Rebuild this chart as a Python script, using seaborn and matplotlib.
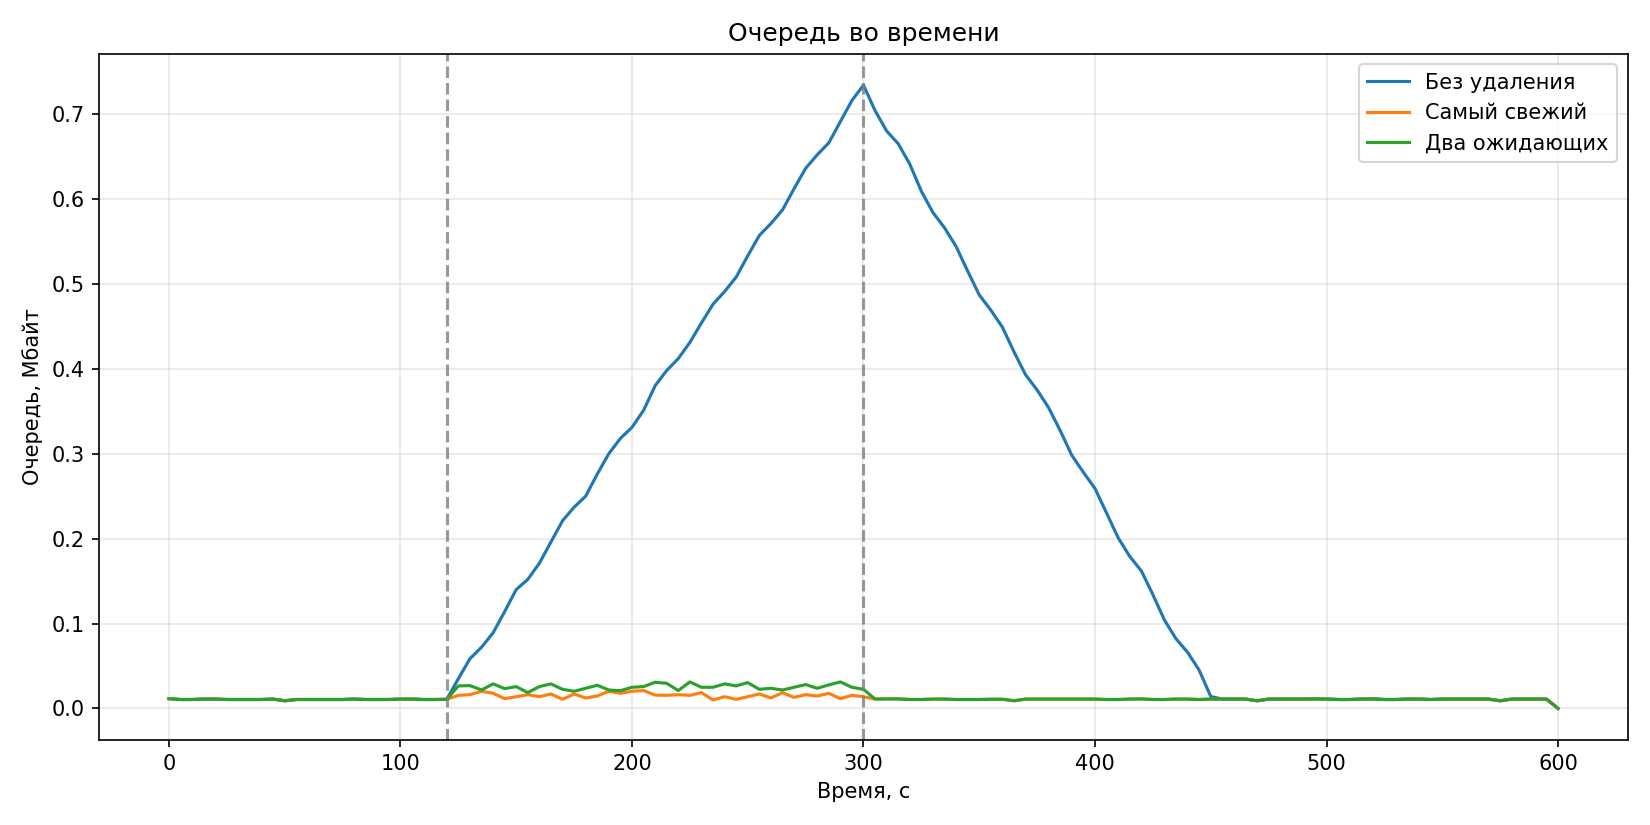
import numpy as np
import pandas as pd
import matplotlib
matplotlib.use("Agg")
import matplotlib.pyplot as plt
import seaborn as sns

# время, с (шаг 5 с)
t = np.arange(0, 605, 5)

# общий фон до начала нагрузки (0..115 с)
head = [0.0115, 0.0105, 0.0105, 0.011, 0.011, 0.0105, 0.0105, 0.0105, 0.0105, 0.011,
        0.009, 0.0105, 0.0105, 0.0105, 0.0105, 0.0105, 0.011, 0.0105, 0.0105, 0.0105,
        0.011, 0.011, 0.0105, 0.0105]

# без удаления: 120..450 с
no_drop_mid = [0.0107, 0.035, 0.0585, 0.072, 0.089, 0.114, 0.140, 0.152, 0.171, 0.196,
               0.221, 0.237, 0.250, 0.276, 0.300, 0.318, 0.331, 0.351, 0.380, 0.398,
               0.412, 0.431, 0.454, 0.476, 0.491, 0.508, 0.533, 0.557, 0.571, 0.587,
               0.612, 0.636, 0.652, 0.666, 0.691, 0.716, 0.734,
               0.704, 0.680, 0.665, 0.641, 0.609, 0.584, 0.566, 0.544, 0.515, 0.487,
               0.469, 0.449, 0.420, 0.393, 0.375, 0.354, 0.327, 0.298, 0.278, 0.259,
               0.230, 0.201, 0.179, 0.162, 0.134, 0.104, 0.082, 0.066, 0.045, 0.014]

# самый свежий: 120..300 с
newest_mid = [0.0107, 0.0154, 0.0162, 0.0202, 0.0178, 0.0115, 0.0138, 0.0162, 0.0138, 0.017,
              0.0107, 0.017, 0.0123, 0.0146, 0.0202, 0.0178, 0.0202, 0.021, 0.0157,
              0.0154, 0.0162, 0.0154, 0.0186, 0.0099, 0.0138, 0.0107, 0.0138, 0.017,
              0.0123, 0.0186, 0.013, 0.0162, 0.0146, 0.0178, 0.0115, 0.0154, 0.0138]

# два ожидающих: 120..300 с
two_wait_mid = [0.0107, 0.0265, 0.0269, 0.0217, 0.0289, 0.0233, 0.0257, 0.0186, 0.0257, 0.0289,
                0.0225, 0.0202, 0.0237, 0.0273, 0.0217, 0.0209, 0.0249, 0.0257, 0.0308,
                0.0296, 0.021, 0.0312, 0.0249, 0.0249, 0.0289, 0.0265, 0.0304, 0.0225,
                0.0237, 0.0217, 0.0249, 0.0281, 0.0237, 0.0277, 0.0312, 0.0249, 0.0225]

# общий хвост 305..600 с
tail = [0.011, 0.0112, 0.0112, 0.0105, 0.0105, 0.011, 0.011, 0.0105, 0.0105, 0.0105,
        0.0108, 0.0108, 0.009, 0.011, 0.011, 0.011, 0.011, 0.011, 0.011, 0.011,
        0.0105, 0.0105, 0.011, 0.0112, 0.0105, 0.0105, 0.011, 0.011, 0.0105, 0.011,
        0.011, 0.011, 0.011, 0.009, 0.011, 0.011, 0.011, 0.011, 0.0112, 0.011,
        0.0105, 0.0105, 0.011, 0.0112, 0.0105, 0.0105, 0.011, 0.011, 0.0105, 0.011,
        0.011, 0.011, 0.011, 0.011, 0.009, 0.011, 0.011, 0.011, 0.011, 0.0]

no_drop = head + no_drop_mid + tail[30:]
newest = head + newest_mid + tail
two_wait = head + two_wait_mid + tail

labels = ["Без удаления", "Самый свежий", "Два ожидающих"]
events = [120, 300]

df = pd.DataFrame({"t": np.tile(t, 3),
                   "q": no_drop + newest + two_wait,
                   "Алгоритм": np.repeat(labels, len(t))})

fig, ax = plt.subplots(figsize=(11, 5.5), dpi=150)
sns.lineplot(data=df, x="t", y="q", hue="Алгоритм", palette="tab10",
             linewidth=1.5, ax=ax)

for ev in events:
    ax.axvline(ev, color="gray", linestyle="--", alpha=0.8)

ax.set_title("Очередь во времени")
ax.set_xlabel("Время, с")
ax.set_ylabel("Очередь, Мбайт")
ax.grid(True, alpha=0.3)
ax.legend(loc="upper right")

plt.tight_layout()
plt.savefig("out.png", dpi=150)
